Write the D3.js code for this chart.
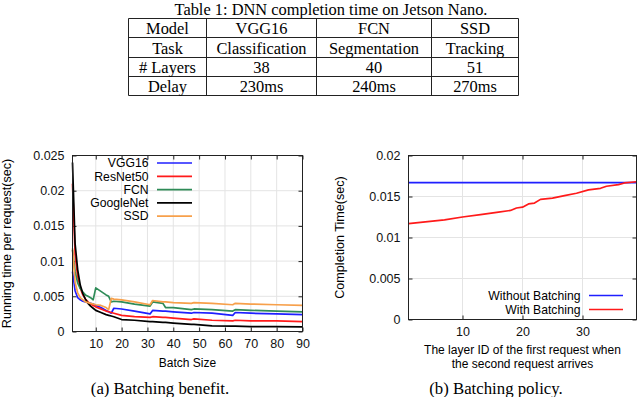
<!DOCTYPE html>
<html>
<head>
<meta charset="utf-8">
<script src="https://cdn.jsdelivr.net/npm/d3@7"></script>
<style>
	body { margin: 0; background: #fff; }
	svg { display: block; }
	.sans { font-family: "Liberation Sans", Arial, sans-serif; }
	.serif { font-family: "Liberation Serif", "Times New Roman", serif; }
	.grid line { stroke: #e4e4e4; stroke-width: 1; }
	.frame { fill: none; stroke: #222; stroke-width: 1; }
	.axis path { display: none; }
	.axis line { stroke: #222; }
	.axis text { font-family: "Liberation Sans", Arial, sans-serif; font-size: 12.5px; fill: #111; }
</style>
</head>
<body>
<div id="chart"></div>
<script>
"use strict";

//  Table data
const tableTitle = 'Table 1: DNN completion time on Jetson Nano.';
const tableRows = [
	['Model', 'VGG16', 'FCN', 'SSD'],
	['Task', 'Classification', 'Segmentation', 'Tracking'],
	['# Layers', '38', '40', '51'],
	['Delay', '230ms', '240ms', '270ms']
];

//  (a) Batching benefit
const batchSizes = [1, 2, 3, 4, 5, 6, 7, 8, 9, 10, 12, 14, 15, 16, 17, 20, 25, 31, 32, 36, 37, 40, 47, 48, 55, 63, 64, 70, 80, 90];
const vgg16     = [0.0085, 0.0058, 0.0048, 0.0045, 0.0043, 0.0042, 0.0041, 0.0040, 0.0039, 0.0037, 0.0034, 0.0030, 0.0028, 0.0026, 0.0033, 0.0032, 0.0029, 0.0025, 0.0030, 0.0029, 0.0029, 0.0028, 0.0026, 0.0027, 0.0026, 0.0023, 0.0027, 0.0026, 0.0025, 0.0024];
const resnet50  = [0.0210, 0.0110, 0.0078, 0.0062, 0.0052, 0.0046, 0.0042, 0.0039, 0.0037, 0.0035, 0.0032, 0.0029, 0.0028, 0.0027, 0.0026, 0.0023, 0.0021, 0.0020, 0.0021, 0.0020, 0.0020, 0.0019, 0.0017, 0.0018, 0.0016, 0.0015, 0.0016, 0.0015, 0.0015, 0.0014];
const fcn       = [0.0116, 0.0085, 0.0069, 0.0061, 0.0056, 0.0052, 0.0050, 0.0048, 0.0045, 0.0062, 0.0057, 0.0052, 0.0050, 0.0042, 0.0043, 0.0042, 0.0039, 0.0036, 0.0042, 0.0040, 0.0034, 0.0034, 0.0031, 0.0032, 0.0031, 0.0029, 0.0031, 0.0030, 0.0029, 0.0028];
const googlenet = [0.0240, 0.0125, 0.0088, 0.0066, 0.0054, 0.0046, 0.0040, 0.0036, 0.0033, 0.0030, 0.0027, 0.0024, 0.0023, 0.0022, 0.0021, 0.0017, 0.0016, 0.0014, 0.0014, 0.0013, 0.0013, 0.0012, 0.0010, 0.0010, 0.0008, 0.00075, 0.00075, 0.0007, 0.0007, 0.00066];
const ssd       = [0.0118, 0.0070, 0.0055, 0.0048, 0.0045, 0.0042, 0.0041, 0.0040, 0.0039, 0.0038, 0.0037, 0.0034, 0.0031, 0.0047, 0.0046, 0.0045, 0.0042, 0.0038, 0.0044, 0.0042, 0.0042, 0.0041, 0.0040, 0.0041, 0.0040, 0.0038, 0.0040, 0.0039, 0.0038, 0.0037];
const benefitSeries = [
	{ name: 'VGG16', values: vgg16, color: '#1f1fff' },
	{ name: 'ResNet50', values: resnet50, color: '#ff1a1a' },
	{ name: 'FCN', values: fcn, color: '#2e8b57' },
	{ name: 'GoogleNet', values: googlenet, color: '#000000' },
	{ name: 'SSD', values: ssd, color: '#f7a04b' }
];
const benefitXTicks = [10, 20, 30, 40, 50, 60, 70, 80, 90];
const benefitYTicks = [0, 0.005, 0.01, 0.015, 0.02, 0.025];

//  (b) Batching policy
const policyLayers = [1, 39];
const withoutBatching = [0.0167, 0.0167];
const batchingLayers = [1, 3, 5, 7, 10, 13, 16, 18, 19, 20, 21, 22, 23, 25, 27, 29, 31, 33, 34, 36, 37, 39];
const withBatching   = [0.0117, 0.01185, 0.0120, 0.01215, 0.0125, 0.0128, 0.0131, 0.0133, 0.0136, 0.0137, 0.0141, 0.0142, 0.01465, 0.0148, 0.0151, 0.0154, 0.0158, 0.0160, 0.01625, 0.01645, 0.01665, 0.0168];
const policyXTicks = [10, 20, 30];
const policyYTicks = [0, 0.005, 0.01, 0.015, 0.02];

const width = 640, height = 397;
const fmt = d => String(+d.toFixed(3));
const labelSize = '12.6px';
const legendSize = '12.2px';

const svg = d3.select('#chart').append('svg')
	.attr('width', width)
	.attr('height', height);

//  Table
svg.append('text')
	.classed('serif', true)
	.attr('x', 331).attr('y', 9.5)
	.attr('dy', '0.35em')
	.attr('text-anchor', 'middle')
	.style('font-size', '16.4px')
	.text(tableTitle);

const colEdges = [128.5, 206.5, 316.5, 431.5, 518.5];
const rowEdges = [18.5, 37.5, 57.5, 76.5, 95.5];
const table = svg.append('g');
table.selectAll('.hline')
	.data(rowEdges)
	.join('line')
		.attr('x1', colEdges[0]).attr('x2', colEdges[colEdges.length - 1])
		.attr('y1', d => d).attr('y2', d => d)
		.attr('stroke', '#222');
table.selectAll('.vline')
	.data(colEdges)
	.join('line')
		.attr('y1', rowEdges[0]).attr('y2', rowEdges[rowEdges.length - 1])
		.attr('x1', d => d).attr('x2', d => d)
		.attr('stroke', '#222');
tableRows.forEach((row, r) =>
	row.forEach((cell, c) =>
		table.append('text')
			.classed('serif', true)
			.attr('x', (colEdges[c] + colEdges[c + 1]) / 2)
			.attr('y', (rowEdges[r] + rowEdges[r + 1]) / 2 + 0.5)
			.attr('dy', '0.35em')
			.attr('text-anchor', 'middle')
			.style('font-size', '16.4px')
			.text(cell)));

//  Shared plotting routine
function plot(opts)
{
	const g = svg.append('g');
	const x = d3.scaleLinear().domain(opts.xDomain).range([opts.left, opts.right]);
	const y = d3.scaleLinear().domain(opts.yDomain).range([opts.bottom, opts.top]);

	//  grid
	g.append('g').classed('grid', true).selectAll('line')
		.data(opts.xTicks)
		.join('line')
			.attr('x1', d => x(d)).attr('x2', d => x(d))
			.attr('y1', opts.top).attr('y2', opts.bottom);
	g.append('g').classed('grid', true).selectAll('line')
		.data(opts.yTicks.slice(1, -1))
		.join('line')
			.attr('y1', d => y(d)).attr('y2', d => y(d))
			.attr('x1', opts.left).attr('x2', opts.right);

	//  axes with inward ticks, mirrored
	g.append('g').classed('axis', true)
		.attr('transform', `translate(0,${opts.bottom})`)
		.call(d3.axisBottom(x).tickValues(opts.xTicks).tickSizeInner(-4).tickPadding(8).tickFormat(fmt));
	g.append('g').classed('axis', true)
		.attr('transform', `translate(0,${opts.top})`)
		.call(d3.axisTop(x).tickValues(opts.xTicks).tickSizeInner(-4).tickFormat(''));
	g.append('g').classed('axis', true)
		.attr('transform', `translate(${opts.left},0)`)
		.call(d3.axisLeft(y).tickValues(opts.yTicks).tickSizeInner(-4).tickPadding(8).tickFormat(fmt));
	g.append('g').classed('axis', true)
		.attr('transform', `translate(${opts.right},0)`)
		.call(d3.axisRight(y).tickValues(opts.yTicks).tickSizeInner(-4).tickFormat(''));

	//  series
	const line = d3.line().x(d => x(d[0])).y(d => y(d[1]));
	g.selectAll('.series')
		.data(opts.series)
		.join('path')
			.attr('fill', 'none')
			.attr('stroke', s => s.color)
			.attr('stroke-width', 1.7)
			.attr('stroke-linejoin', 'round')
			.attr('d', s => line(s.xs.map((v, i) => [v, s.values[i]])));

	g.append('rect').classed('frame', true)
		.attr('x', opts.left).attr('y', opts.top)
		.attr('width', opts.right - opts.left).attr('height', opts.bottom - opts.top);

	//  legend
	const legend = g.append('g').selectAll('g')
		.data(opts.series)
		.join('g')
			.attr('transform', (s, i) => `translate(0,${opts.legendY + i * opts.legendStep})`);
	legend.append('text')
		.classed('sans', true)
		.attr('x', opts.legendText)
		.attr('dy', '0.35em')
		.attr('text-anchor', 'end')
		.style('font-size', legendSize)
		.text(s => s.name);
	legend.append('line')
		.attr('x1', opts.legendLine[0]).attr('x2', opts.legendLine[1])
		.attr('stroke', s => s.color)
		.attr('stroke-width', 1.7);

	//  labels
	g.append('text')
		.classed('sans', true)
		.attr('transform', `translate(${opts.yLabelX},${(opts.top + opts.bottom) / 2}) rotate(-90)`)
		.attr('dy', '0.35em')
		.attr('text-anchor', 'middle')
		.style('font-size', labelSize)
		.text(opts.yLabel);
	opts.xLabel.forEach((t, i) =>
		g.append('text')
			.classed('sans', true)
			.attr('x', (opts.left + opts.right) / 2)
			.attr('y', opts.xLabelY + i * 13.9)
			.attr('dy', '0.35em')
			.attr('text-anchor', 'middle')
			.style('font-size', '12px')
			.text(t));
	g.append('text')
		.classed('serif', true)
		.attr('x', opts.captionX)
		.attr('y', 388)
		.attr('dy', '0.35em')
		.attr('text-anchor', 'middle')
		.style('font-size', '16.8px')
		.text(opts.caption);
}

plot({
	left: 72.5, right: 302.5, top: 155.5, bottom: 331.5,
	xDomain: [1, 90], yDomain: [0, 0.025],
	xTicks: benefitXTicks, yTicks: benefitYTicks,
	series: benefitSeries.map(s => Object.assign({ xs: batchSizes }, s)),
	legendY: 163, legendStep: 13.3, legendText: 148.5, legendLine: [157, 192],
	yLabel: 'Running time per request(sec)', yLabelX: 7,
	xLabel: ['Batch Size'], xLabelY: 363,
	caption: '(a) Batching benefit.', captionX: 160
});

plot({
	left: 408.5, right: 636.5, top: 155.5, bottom: 319.5,
	xDomain: [1, 39], yDomain: [0, 0.02],
	xTicks: policyXTicks, yTicks: policyYTicks,
	series: [
		{ name: 'Without Batching', xs: policyLayers, values: withoutBatching, color: '#1f1fff' },
		{ name: 'With Batching', xs: batchingLayers, values: withBatching, color: '#ff1a1a' }
	],
	legendY: 295.5, legendStep: 14, legendText: 580.5, legendLine: [589, 623],
	yLabel: 'Completion Time(sec)', yLabelX: 340,
	xLabel: ['The layer ID of the first request when', 'the second request arrives'], xLabelY: 350,
	caption: '(b) Batching policy.', captionX: 496
});
</script>
</body>
</html>
